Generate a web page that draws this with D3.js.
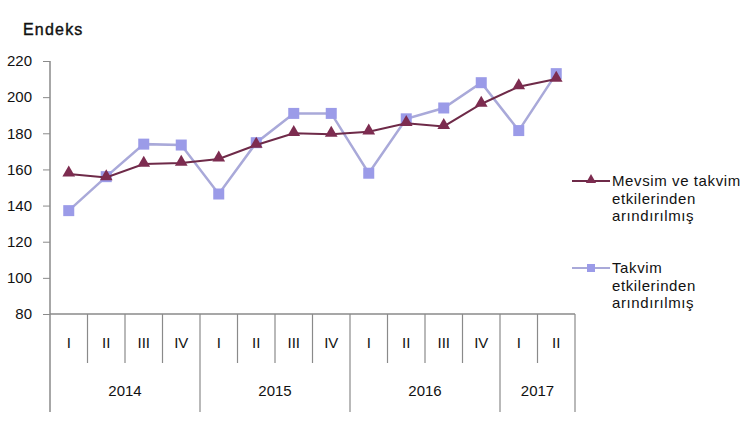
<!DOCTYPE html>
<html>
<head>
<meta charset="utf-8">
<script src="https://cdn.jsdelivr.net/npm/d3@7"></script>
<style>
  body { margin: 0; background: #fff; }
  svg text { font-family: "Liberation Sans", Arial, sans-serif; fill: #111; }
</style>
</head>
<body>
<script>
(function() {

//data
var quarters = ["I", "II", "III", "IV", "I", "II", "III", "IV", "I", "II", "III", "IV", "I", "II"];
var years = ["2014", "2014", "2014", "2014", "2015", "2015", "2015", "2015", "2016", "2016", "2016", "2016", "2017", "2017"];
var seasonal = [157.5, 155.5, 163, 163.5, 165.8, 173.5, 180, 179.5, 180.8, 185.5, 183.8, 196.2, 205.8, 210];
var calendar = [137.2, 156, 174, 173.5, 146.4, 174.8, 191, 191, 157.9, 188, 194, 208, 181.5, 213];
var yTicks = [80, 100, 120, 140, 160, 180, 200, 220];
var legendNames = [["Mevsim ve takvim", "etkilerinden", "arındırılmış"], ["Takvim", "etkilerinden", "arındırılmış"]];

var width = 750, height = 422;
var left = 50, right = 575, top = 61, bottom = 314;

var svg = d3.select("body").append("svg")
    .attr("width", width)
    .attr("height", height);

var x = d3.scaleBand()
    .domain(d3.range(quarters.length))
    .range([left, right]);

var y = d3.scaleLinear()
    .domain([80, 220])
    .range([bottom, top]);

var axisColor = "#8a8a8a";

//y axis
var yAxis = d3.axisLeft(y)
    .tickValues(yTicks)
    .tickSize(7)
    .tickPadding(11);

var gy = svg.append("g")
    .attr("transform", "translate(" + left + ",0)")
    .call(yAxis);
gy.select(".domain").remove();
gy.selectAll(".tick line").attr("stroke", axisColor);
gy.selectAll(".tick text")
    .style("font-size", "15px")
    .attr("fill", "#111");

//vertical axis line runs down through the category area
svg.append("line")
    .attr("x1", left).attr("x2", left)
    .attr("y1", top).attr("y2", 412)
    .attr("stroke", axisColor).attr("stroke-width", 1.5);

//horizontal axis line
svg.append("line")
    .attr("x1", left).attr("x2", right)
    .attr("y1", bottom).attr("y2", bottom)
    .attr("stroke", axisColor).attr("stroke-width", 1.5);

//category separators, longer at year boundaries
d3.range(1, quarters.length + 1).forEach(function(i) {
    var xx = i < quarters.length ? x(i) : right;
    var yearEnd = i == quarters.length || years[i] != years[i - 1];
    svg.append("line")
        .attr("x1", xx).attr("x2", xx)
        .attr("y1", bottom)
        .attr("y2", yearEnd ? 412 : 363)
        .attr("stroke", axisColor).attr("stroke-width", 1.2);
});

//quarter labels
svg.selectAll(".qLabel")
    .data(quarters)
    .enter()
    .append("text")
    .attr("class", "qLabel")
    .attr("x", function(d, i) { return x(i) + x.bandwidth() / 2; })
    .attr("y", 348)
    .attr("text-anchor", "middle")
    .style("font-size", "15px")
    .text(function(d) { return d; });

//year labels
var yearList = Array.from(new Set(years));
svg.selectAll(".yLabel")
    .data(yearList)
    .enter()
    .append("text")
    .attr("class", "yLabel")
    .attr("x", function(d) {
        var idx = years.map(function(v, i) { return v == d ? i : -1; }).filter(function(i) { return i >= 0; });
        return (x(idx[0]) + x(idx[idx.length - 1]) + x.bandwidth()) / 2;
    })
    .attr("y", 396)
    .attr("text-anchor", "middle")
    .style("font-size", "15px")
    .text(function(d) { return d; });

//axis title
svg.append("text")
    .attr("x", 23)
    .attr("y", 35)
    .style("font-size", "16px")
    .style("letter-spacing", "1.2px")
    .style("stroke", "#111")
    .style("stroke-width", "0.4px")
    .text("Endeks");

var line = d3.line()
    .x(function(d, i) { return x(i) + x.bandwidth() / 2; })
    .y(function(d) { return y(d); });

var calColor = "#a9a9d9", calMarker = "#9b9be8";
var seaColor = "#6e2a48", seaMarker = "#7d2c50";

var tri = d3.symbol().type(d3.symbolTriangle).size(70);

//calendar adjusted series (squares)
svg.append("path")
    .datum(calendar)
    .attr("d", line)
    .attr("fill", "none")
    .attr("stroke", calColor)
    .attr("stroke-width", 2.5);

svg.selectAll(".sq")
    .data(calendar)
    .enter()
    .append("rect")
    .attr("class", "sq")
    .attr("x", function(d, i) { return x(i) + x.bandwidth() / 2 - 5.5; })
    .attr("y", function(d) { return y(d) - 5.5; })
    .attr("width", 11)
    .attr("height", 11)
    .attr("fill", calMarker);

//seasonal and calendar adjusted series (triangles)
svg.append("path")
    .datum(seasonal)
    .attr("d", line)
    .attr("fill", "none")
    .attr("stroke", seaColor)
    .attr("stroke-width", 2);

svg.selectAll(".tri")
    .data(seasonal)
    .enter()
    .append("path")
    .attr("class", "tri")
    .attr("d", tri)
    .attr("transform", function(d, i) {
        return "translate(" + (x(i) + x.bandwidth() / 2) + "," + (y(d) - 1) + ")";
    })
    .attr("fill", seaMarker);

//legend
var legendY = [181, 268];
legendNames.forEach(function(names, k) {
    var g = svg.append("g").attr("transform", "translate(0," + legendY[k] + ")");
    g.append("line")
        .attr("x1", 572).attr("x2", 610)
        .attr("y1", 0).attr("y2", 0)
        .attr("stroke", k == 0 ? seaColor : calColor)
        .attr("stroke-width", 2);
    if (k == 0) {
        g.append("path").attr("d", d3.symbol().type(d3.symbolTriangle).size(45)).attr("transform", "translate(591,-1)").attr("fill", seaMarker);
    } else {
        g.append("rect").attr("x", 587).attr("y", -4).attr("width", 8).attr("height", 8).attr("fill", calMarker);
    }
    names.forEach(function(n, j) {
        g.append("text")
            .attr("x", 612)
            .attr("y", 5 + j * 17.5)
            .style("font-size", "15px")
            .style("letter-spacing", "0.6px")
            .text(n);
    });
});

})();
</script>
</body>
</html>
